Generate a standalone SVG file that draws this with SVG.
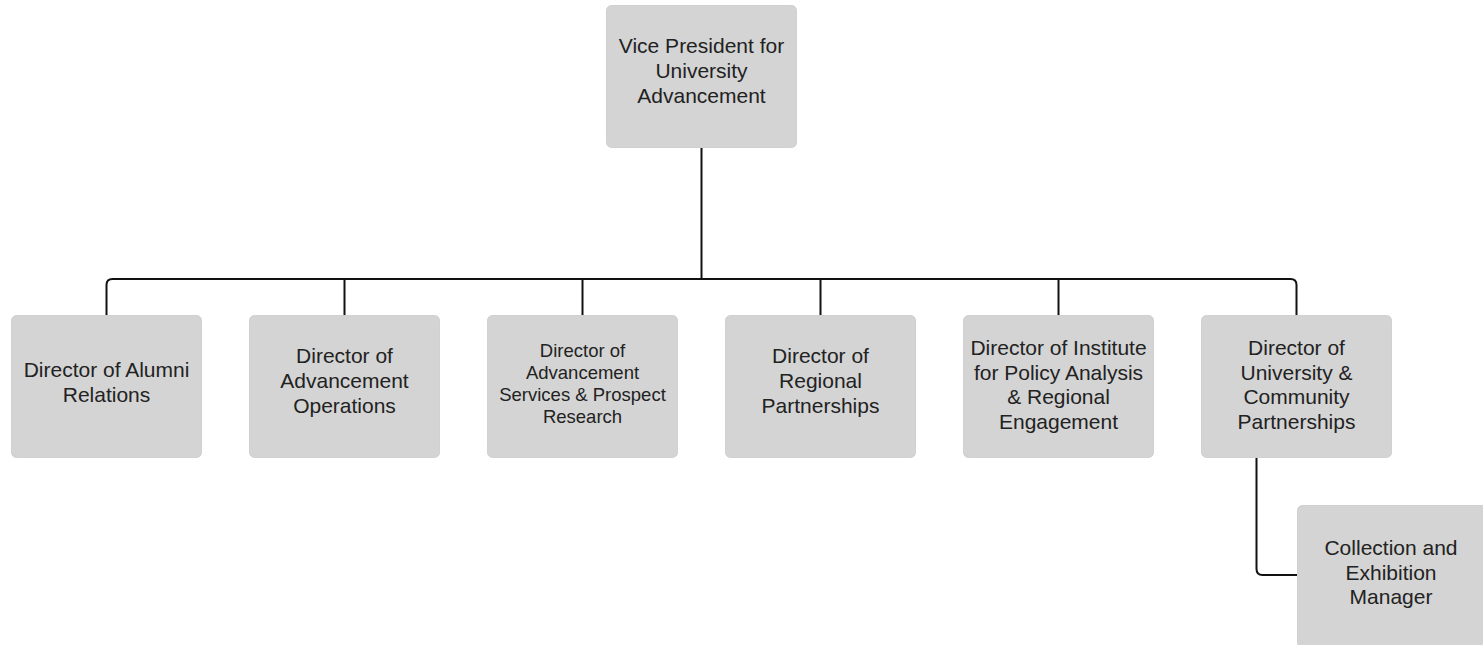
<svg xmlns="http://www.w3.org/2000/svg" width="1483" height="645" viewBox="0 0 1483 645">
<style>
.box{fill:#d4d4d4;stroke:#d0d0d0;stroke-width:1}
.t{font-family:"Liberation Sans",Arial,sans-serif;font-size:21px;fill:#222;text-anchor:middle}
.s{font-size:18.5px}
.c{fill:none;stroke:#111;stroke-width:2;stroke-linejoin:round}
</style>
<rect width="1483" height="645" fill="#fff"/>
<g id="connectors">
<path class="c" d="M701.5 148 V279"/>
<path class="c" d="M106.5 315 V285 Q106.5 279 112.5 279 H1290.5 Q1296.5 279 1296.5 285 V315"/>
<path class="c" d="M344.5 279 V315 M582.5 279 V315 M820.5 279 V315 M1058.5 279 V315"/>
<path class="c" d="M1256.5 458 V569 Q1256.5 575 1262.5 575 H1297"/>
</g>
<g id="vp">
<rect class="box" x="606.5" y="5.5" width="190" height="142" rx="5"/>
<text class="t" x="701.5" y="53">Vice President for</text>
<text class="t" x="701.5" y="78">University</text>
<text class="t" x="701.5" y="103">Advancement</text>
</g>
<g id="alumni">
<rect class="box" x="11.5" y="315.5" width="190" height="142" rx="5"/>
<text class="t" x="106.5" y="377">Director of Alumni</text>
<text class="t" x="106.5" y="402">Relations</text>
</g>
<g id="operations">
<rect class="box" x="249.5" y="315.5" width="190" height="142" rx="5"/>
<text class="t" x="344.5" y="363">Director of</text>
<text class="t" x="344.5" y="388">Advancement</text>
<text class="t" x="344.5" y="413">Operations</text>
</g>
<g id="services">
<rect class="box" x="487.5" y="315.5" width="190" height="142" rx="5"/>
<text class="t s" x="582.5" y="357">Director of</text>
<text class="t s" x="582.5" y="379">Advancement</text>
<text class="t s" x="582.5" y="401">Services &amp; Prospect</text>
<text class="t s" x="582.5" y="423">Research</text>
</g>
<g id="regional">
<rect class="box" x="725.5" y="315.5" width="190" height="142" rx="5"/>
<text class="t" x="820.5" y="363">Director of</text>
<text class="t" x="820.5" y="388">Regional</text>
<text class="t" x="820.5" y="413">Partnerships</text>
</g>
<g id="institute">
<rect class="box" x="963.5" y="315.5" width="190" height="142" rx="5"/>
<text class="t" x="1058.5" y="355">Director of Institute</text>
<text class="t" x="1058.5" y="380">for Policy Analysis</text>
<text class="t" x="1058.5" y="404">&amp; Regional</text>
<text class="t" x="1058.5" y="429">Engagement</text>
</g>
<g id="university">
<rect class="box" x="1201.5" y="315.5" width="190" height="142" rx="5"/>
<text class="t" x="1296.5" y="355">Director of</text>
<text class="t" x="1296.5" y="380">University &amp;</text>
<text class="t" x="1296.5" y="404">Community</text>
<text class="t" x="1296.5" y="429">Partnerships</text>
</g>
<g id="collection">
<rect class="box" x="1297.5" y="505.5" width="190" height="142" rx="5"/>
<text class="t" x="1391" y="555">Collection and</text>
<text class="t" x="1391" y="580">Exhibition</text>
<text class="t" x="1391" y="604">Manager</text>
</g>
</svg>
